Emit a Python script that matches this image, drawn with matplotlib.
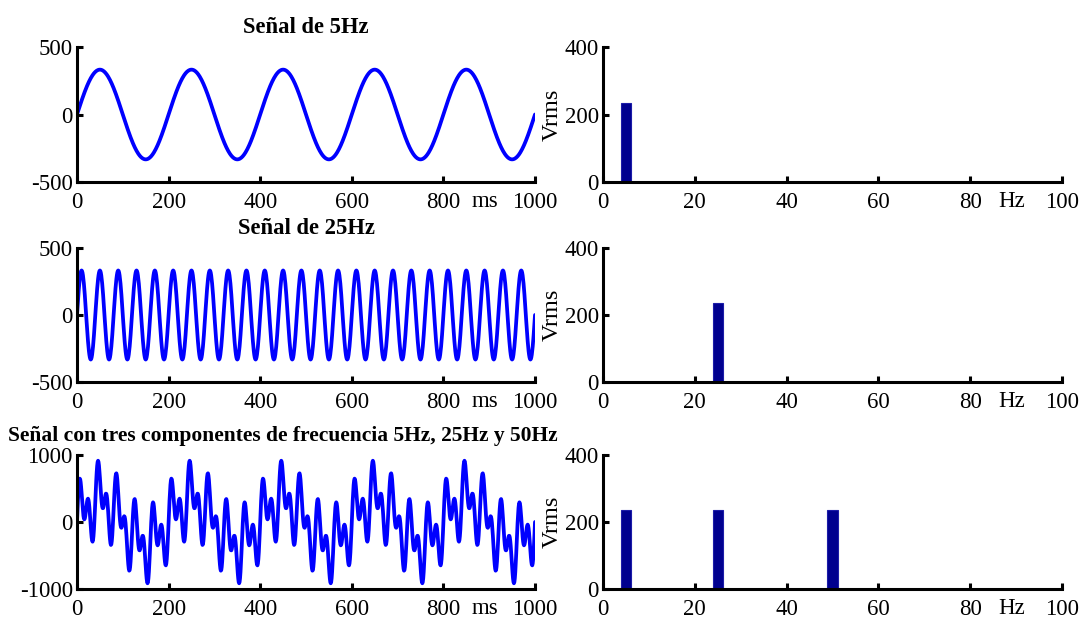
import numpy as np
import matplotlib
matplotlib.use('Agg')
import matplotlib.pyplot as plt
from matplotlib.transforms import blended_transform_factory

plt.rcParams['font.family'] = ['Liberation Serif', 'DejaVu Serif']
plt.rcParams['font.size'] = 16.5
plt.rcParams['axes.unicode_minus'] = False

# components of each signal: frequency (Hz) and rms value (V)
freqs_1 = [5]
freqs_2 = [25]
freqs_3 = [5, 25, 50]
vrms_1 = [235]
vrms_2 = [235]
vrms_3 = [235, 235, 235]

titles = ['Señal de 5Hz', 'Señal de 25Hz',
          'Señal con tres componentes de frecuencia 5Hz, 25Hz y 50Hz']
time_ylims = [(-500, 500), (-500, 500), (-1000, 1000)]
time_yticks = [[-500, 0, 500], [-500, 0, 500], [-1000, 0, 1000]]

fs = 1000
t_ms = np.arange(0, 1001)
t = t_ms / fs

rows = [(freqs_1, vrms_1), (freqs_2, vrms_2), (freqs_3, vrms_3)]

fig = plt.figure(figsize=(10.83, 6.19), dpi=100)
W, H = 1083, 619
tops = [47, 248, 455]
bottoms = [182, 382, 589]


def style(ax):
    for s in ('top', 'right'):
        ax.spines[s].set_visible(False)
    for s in ('left', 'bottom'):
        ax.spines[s].set_linewidth(2.2)
    ax.tick_params(direction='in', length=4, width=2.2, labelsize=16.5)
    ax.tick_params(axis='x', pad=7)
    ax.tick_params(axis='y', pad=3)


for i, (freqs, vrms) in enumerate(rows):
    y0 = 1 - bottoms[i] / H
    hpx = bottoms[i] - tops[i]
    h = hpx / H

    # time-domain signal
    ax = fig.add_axes([77 / W, y0, 458 / W, h])
    sig = np.zeros_like(t)
    for f, v in zip(freqs, vrms):
        sig += v * np.sqrt(2) * np.sin(2 * np.pi * f * t)
    ax.plot(t_ms, sig, color='#0000ff', lw=2.7, solid_capstyle='round')
    ax.set_xlim(0, 1000)
    ax.set_ylim(*time_ylims[i])
    ax.set_xticks([0, 200, 400, 600, 800, 1000])
    ax.set_yticks(time_yticks[i])
    style(ax)
    tx = 0.5 if i < 2 else 0.449
    fs_title = 16.3 if i < 2 else 15.5
    ax.set_title(titles[i], fontsize=fs_title, fontweight='bold', x=tx, pad=10)
    trans = blended_transform_factory(ax.transData, ax.transAxes)
    ms_drop = 25 if i < 2 else 25.5
    ax.text(891, -ms_drop / hpx, 'ms', transform=trans,
            ha='center', va='baseline', fontsize=16.5)

    # spectrum
    bx = fig.add_axes([603 / W, y0, 459 / W, h])
    bx.bar(freqs, vrms, width=2.2, color='#00008f', edgecolor='#1c1ca8', lw=0.8)
    bx.set_xlim(0, 100)
    bx.set_ylim(0, 400)
    bx.set_xticks([0, 20, 40, 60, 80, 100])
    bx.set_yticks([0, 200, 400])
    style(bx)
    bx.set_ylabel('Vrms', fontsize=17.5, labelpad=1)
    trans = blended_transform_factory(bx.transData, bx.transAxes)
    bx.text(89.1, -25 / hpx, 'Hz', transform=trans, ha='center', va='baseline',
            fontsize=16.5)

fig.savefig('out.png', dpi=100)
